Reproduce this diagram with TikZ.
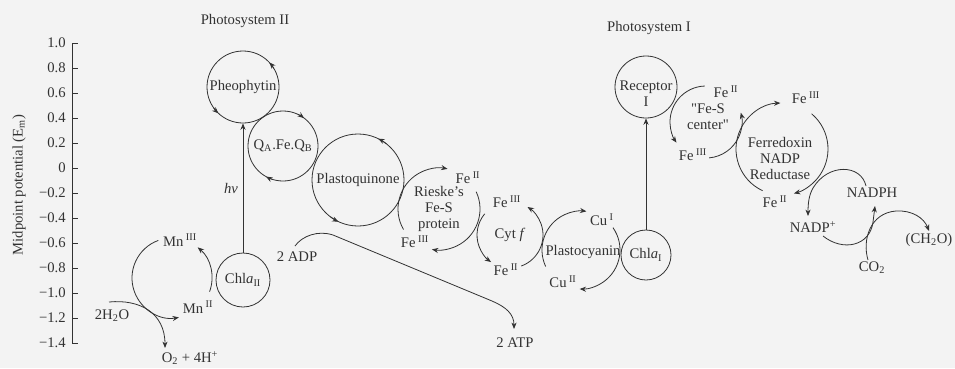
\documentclass[tikz,border=0pt]{standalone}
\usepackage{fontspec}
\setmainfont{Liberation Serif}
\usetikzlibrary{arrows.meta}
\definecolor{ink}{RGB}{50,50,50}
\definecolor{paper}{RGB}{243,243,243}
\newcommand\ringarc[5][]{\draw[wire,#1] (#2.center) ++(#4:#3) arc[start angle=#4, end angle=#5, radius=#3];}
\begin{document}
\begin{tikzpicture}[x=0.75pt,y=-0.75pt,
  font=\fontsize{11}{12}\selectfont,
  wire/.style={draw=ink, line width=0.6pt},
  tip/.style={-{Stealth[length=4.8pt,width=3.8pt]}},
  lbl/.style={inner sep=0pt, align=center, text=ink},
  ring/.style={circle, draw=ink, line width=0.6pt, inner sep=0pt, minimum size=#1, align=center, text=ink},
  hub/.style={circle, draw=none, inner sep=0pt, minimum size=#1, align=center, text=ink}]
\fill[paper] (0,0) rectangle (955,368);
\useasboundingbox (0,0) rectangle (955,368);

% titles
\node[lbl] (ps2) at (245,21) {Photosystem II};
\node[lbl] (ps1) at (649,28) {Photosystem I};

% axis
\coordinate (atop) at (72,43);
\coordinate (abot) at (72,343);
\draw[wire] (atop) -- (abot);
\foreach \t [count=\i from 0] in {1.0,0.8,0.6,0.4,0.2,0,−0.2,−0.4,−0.6,−0.8,−1.0,−1.2,−1.4}{
  \coordinate (tk\i) at (72,43+\i*25);
  \coordinate (te\i) at (78,43+\i*25);
  \draw[wire] (tk\i) -- (te\i);
  \node[lbl, anchor=east] (tl\i) at (66,43+\i*25) {\t};
}
\node[lbl, rotate=90] (ytitle) at (19,185) {Midpoint potential (E\textsubscript{m})};

% photosystem II circles
\node[ring=54pt] (pheo) at (243,87) {Pheophytin};
\node[ring=52.5pt] (qa) at (283,146) {Q\textsubscript{A}.Fe.Q\textsubscript{B}};
\node[ring=69pt] (pq) at (358,180) {Plastoquinone};
\node[ring=40.5pt] (chla2) at (243,280) {Chl\textit{a}\textsubscript{II}};
\node[hub=60pt] (mn) at (172,278) {};

\ringarc[tip]{pheo}{36}{329}{317}
\ringarc[tip]{pheo}{36}{145}{133}
\ringarc[tip]{qa}{35}{295}{307}
\ringarc[tip]{qa}{35}{107}{119}
\ringarc[tip]{pq}{46}{308}{296}
\ringarc[tip]{pq}{46}{127}{115}

% Mn cycle
\node[lbl] (mn3) at (180,240) {Mn\,\textsuperscript{III}};
\node[lbl] (mn2) at (198,307) {Mn\,\textsuperscript{II}};
\ringarc[tip]{mn}{40}{250}{80}
\ringarc[tip]{mn}{40}{20}{-50}

% water
\node[lbl] (h2o) at (112,316) {2H\textsubscript{2}O};
\node[lbl] (o2) at (190,358) {O\textsubscript{2} + 4H\textsuperscript{+}};
\coordinate (w0) at (109,302);
\coordinate (w1) at (165,348);
\draw[wire,tip] (w0) .. controls (140,299) and (165,313) .. (w1);

% light
\draw[wire,tip] (chla2.north) -- (pheo.south);
\node[lbl] (hv1) at (231,188) {\textit{hν}};

% ADP -> ATP
\node[lbl] (adp) at (297,257) {2 ADP};
\node[lbl] (atp) at (515,343) {2 ATP};
\coordinate (adp0) at (295,246);
\coordinate (atp1) at (514,329);
\draw[wire,tip] (adp0) .. controls (302,236) and (318,230) .. (333,235) -- (492,301) .. controls (506,307) and (514,314) .. (atp1);

% Rieske
\node[hub=61.5pt] (rieske) at (439,209) {Rieske’s\\Fe-S\\protein};
\node[lbl] (rfe2) at (468,178) {Fe\,\textsuperscript{II}};
\node[lbl] (rfe3) at (415,242) {Fe\,\textsuperscript{III}};
\ringarc[tip]{rieske}{41}{150}{282}
\ringarc[tip]{rieske}{41}{335}{460}

% Cyt f
\node[hub=49.5pt] (cytf) at (510,235) {Cyt \textit{f}};
\node[lbl] (cfe3) at (507,202) {Fe\,\textsuperscript{III}};
\node[lbl] (cfe2) at (506,270) {Fe\,\textsuperscript{II}};
\ringarc[tip]{cytf}{33}{220}{125}
\ringarc[tip]{cytf}{33}{70}{-58}

% Plastocyanin
\node[hub=58.5pt] (pc) at (581,250) {};
\node[lbl] (pctxt) at (583,252) {Plastocyanin};
\node[lbl] (cu1) at (602,220) {Cu\,\textsuperscript{I}};
\node[lbl] (cu2) at (563,282) {Cu\,\textsuperscript{II}};
\ringarc[tip]{pc}{39}{155}{278}
\ringarc[tip]{pc}{39}{325}{452}

% Photosystem I
\node[ring=37.5pt] (chla1) at (646,255) {Chl\textit{a}\textsubscript{I}};
\node[ring=46.5pt] (rec) at (646,87) {};
\node[lbl] (rectxt) at (646,94) {Receptor\\I};
\draw[wire,tip] (chla1.north) -- (rec.south);

% Fe-S center
\node[hub=54pt] (fes) at (706,122) {};
\node[lbl] (festxt) at (708,117) {\textquotedbl Fe-S\\center\textquotedbl};
\node[lbl] (sfe2) at (726,92) {Fe\,\textsuperscript{II}};
\node[lbl] (sfe3) at (693,155) {Fe\,\textsuperscript{III}};
\ringarc[tip]{fes}{36}{268}{145}
\ringarc[tip]{fes}{36}{85}{-15}

% Ferredoxin NADP reductase
\node[hub=69pt] (fdx) at (782,149) {};
\node[lbl] (fdxtxt) at (780,158) {Ferredoxin\\NADP\\Reductase};
\node[lbl] (ffe3) at (806,98) {Fe\,\textsuperscript{III}};
\node[lbl] (ffe2) at (775,202) {Fe\,\textsuperscript{II}};
\ringarc[tip]{fdx}{46}{115}{268}
\ringarc[tip]{fdx}{46}{310}{435}

% NADP / CO2
\node[lbl] (nadpp) at (813,227) {NADP\textsuperscript{+}};
\node[lbl] (nadph) at (872,193) {NADPH};
\node[lbl] (ch2o) at (929,240) {(CH\textsubscript{2}O)};
\node[lbl] (co2) at (872,268) {CO\textsubscript{2}};
\coordinate (np0) at (866,186);
\coordinate (np1) at (808,216);
\draw[wire,tip] (np0) .. controls (861,164) and (828,163) .. (813,188) .. controls (809,195) and (808,203) .. (np1);
\coordinate (a0) at (823,236);
\coordinate (a1) at (875,206);
\draw[wire,tip] (a0) .. controls (843,252) and (870,246) .. (873,222) -- (a1);
\coordinate (b0) at (868,260);
\coordinate (b1) at (929,231);
\draw[wire,tip] (b0) .. controls (862,240) and (870,213) .. (896,211) .. controls (912,210) and (924,218) .. (b1);
\end{tikzpicture}
\end{document}
